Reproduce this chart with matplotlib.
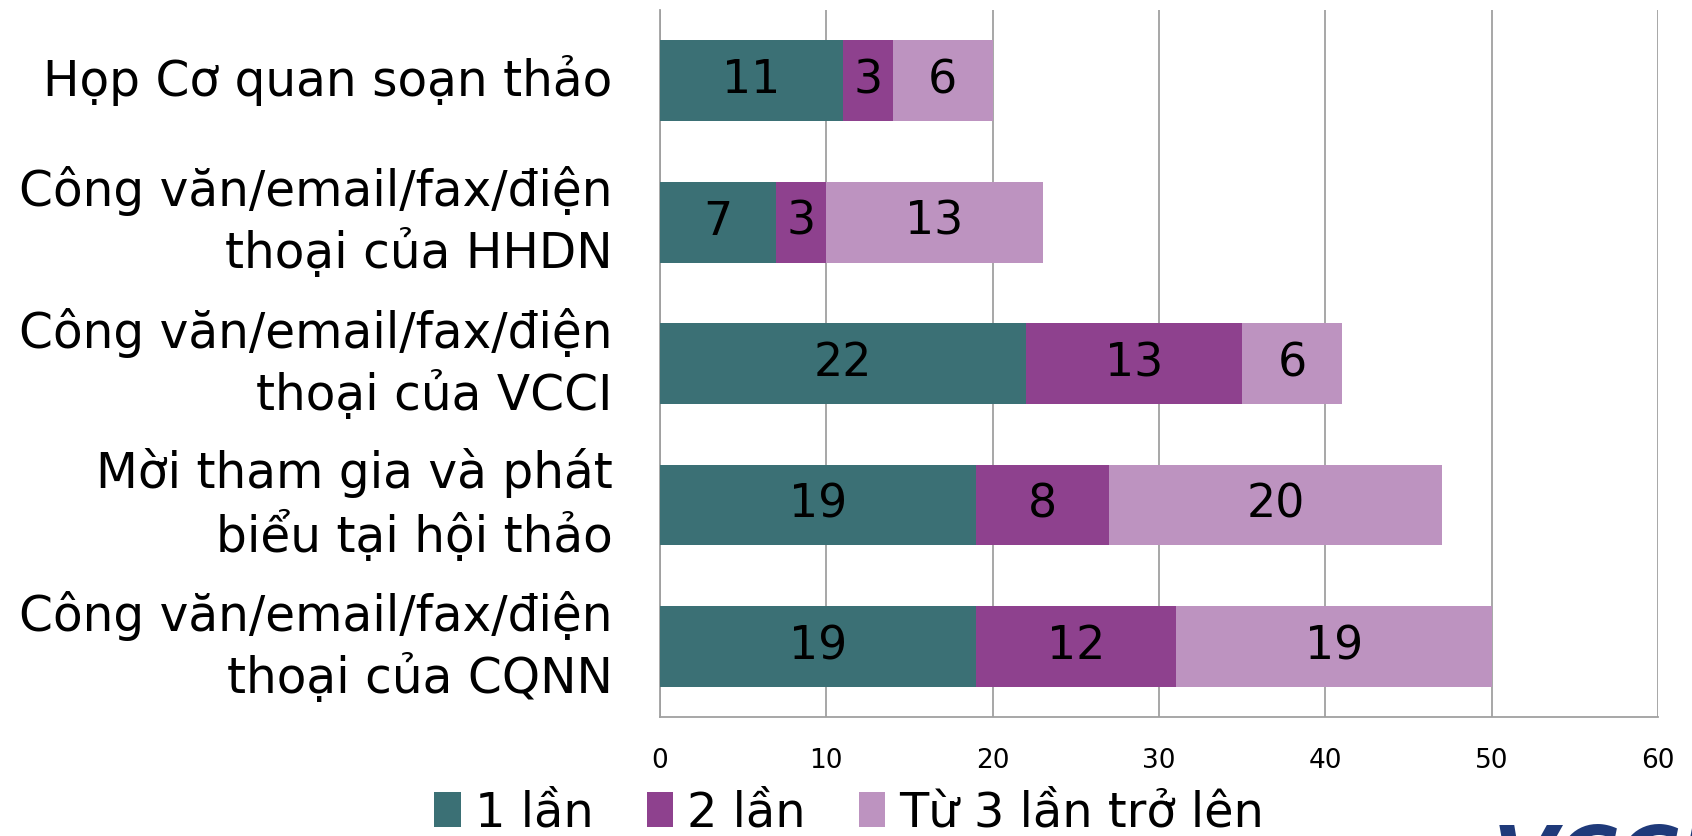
import matplotlib.pyplot as plt
import numpy as np

categories = [
    "Họp Cơ quan soạn thảo",
    "Công văn/email/fax/điện\nthoại của HHDN",
    "Công văn/email/fax/điện\nthoại của VCCI",
    "Mời tham gia và phát\nbiểu tại hội thảo",
    "Công văn/email/fax/điện\nthoại của CQNN",
]
series_names = ["1 lần", "2 lần", "Từ 3 lần trở lên"]
once = [11, 7, 22, 19, 19]
twice = [3, 3, 13, 8, 12]
three_plus = [6, 13, 6, 20, 19]
colors = ["#3b7075", "#8e418e", "#bd93c0"]
xticks = [0, 10, 20, 30, 40, 50, 60]

fig = plt.figure(figsize=(16.92, 8.36), dpi=100)
ax = fig.add_axes([0.390, 0.142, 0.590, 0.846])

y = np.arange(len(categories))
left = np.zeros(len(categories))
handles = []
for vals, name, c in zip([once, twice, three_plus], series_names, colors):
    bars = ax.barh(y, vals, left=left, height=0.57, color=c, label=name, zorder=3)
    for yi, l, v in zip(y, left, vals):
        ax.text(l + v / 2, yi, str(v), ha="center", va="center",
                fontsize=33, color="black", zorder=4)
    left += np.array(vals)
    handles.append(bars)

ax.set_xlim(0, 60)
ax.set_ylim(len(categories) - 0.5, -0.5)
ax.set_xticks(xticks)
ax.set_xticklabels([str(t) for t in xticks], fontsize=19)
ax.set_yticks(y)
ax.set_yticklabels(categories, fontsize=35, linespacing=1.3)
for lab in ax.get_yticklabels():
    lab.set_verticalalignment("center")
ax.tick_params(axis="x", length=0, pad=22)
ax.tick_params(axis="y", length=0, pad=34)
ax.grid(axis="x", color="#a0a0a0", linewidth=1.3, zorder=0)
for s in ["top", "right"]:
    ax.spines[s].set_visible(False)
for s in ["left", "bottom"]:
    ax.spines[s].set_color("#a0a0a0")
    ax.spines[s].set_linewidth(1.3)

fig.legend(handles=handles, labels=series_names, loc="center",
           bbox_to_anchor=(0.502, 0.028), ncol=3, frameon=False,
           fontsize=34.5, handlelength=0.55, handleheight=0.75,
           handletextpad=0.3, columnspacing=1.1, borderpad=0.1)

# partly visible logo in the corner
fig.text(0.882, -0.08, "VCCI", fontsize=60, fontweight="bold",
         fontstyle="italic", color="#1f3a7a", ha="left", va="bottom")

fig.savefig("out.png", dpi=100)
